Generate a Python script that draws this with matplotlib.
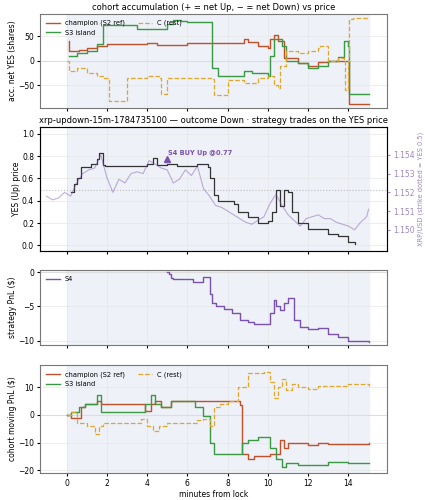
import matplotlib
matplotlib.use("Agg")
import matplotlib.pyplot as plt

# --- cohort accumulation (shares) ---
acc_t_champ = [0.1,0.12,0.6,1.0,1.5,2.0,4.0,4.5,5.0,6.0,8.7,8.8,9.0,9.5,10.0,10.1,10.3,10.5,10.8,11.5,12.0,12.5,13.0,14.0,14.05,15.0]
acc_champ   = [40,20,22,25,30,35,37,32,33,36,37,45,38,30,25,45,53,40,5,-5,-10,-2,0,0,-87,-87]
acc_t_s3 = [0.1,0.5,1.0,1.5,1.8,3.2,3.5,4.3,5.0,5.3,5.7,6.0,7.1,7.2,7.5,8.5,8.8,9.2,10.0,10.1,10.3,10.7,10.9,11.5,12.0,12.5,13.0,13.5,13.8,14.0,14.05,15.0]
acc_s3   = [10,15,20,35,72,72,65,65,75,82,80,78,78,-15,-32,-32,-20,-25,-32,10,45,30,0,-5,-15,-10,0,8,40,30,-68,-68]
acc_t_c = [0.0,0.1,0.5,1.0,1.5,1.8,2.0,2.1,3.0,4.0,4.6,4.7,5.0,6.0,7.2,7.3,8.0,8.8,9.5,10.0,10.3,10.5,10.6,10.9,11.5,12.0,12.5,12.6,13.0,13.5,13.8,13.85,14.0,14.05,14.2,15.0]
acc_c   = [0,-20,-15,-25,-30,-35,-35,-82,-35,-32,-35,-68,-35,-36,-38,-70,-40,-45,-35,-30,-50,-55,-10,20,15,20,25,30,0,5,0,-60,0,85,87,87]

# --- YES price and XRP ---
yes_t = [0.2,0.35,0.5,0.7,1.2,1.5,1.6,1.8,1.9,3.0,4.0,4.3,4.5,5.0,5.5,6.5,7.0,7.1,7.3,7.5,8.3,8.5,9.0,9.5,10.0,10.2,10.4,10.6,10.8,11.0,11.2,11.5,12.0,12.5,13.0,13.5,14.0,14.3]
yes_p = [0.48,0.55,0.60,0.70,0.73,0.77,0.83,0.72,0.71,0.71,0.73,0.78,0.72,0.73,0.71,0.73,0.70,0.60,0.45,0.40,0.37,0.30,0.25,0.20,0.22,0.30,0.50,0.35,0.50,0.48,0.30,0.20,0.15,0.15,0.10,0.08,0.03,0.01]
xrp_t = [-1.0,-0.7,-0.4,-0.1,0.2,0.5,0.8,1.1,1.4,1.7,2.0,2.3,2.6,2.9,3.2,3.5,3.8,4.1,4.4,4.7,5.0,5.3,5.6,5.9,6.2,6.5,6.8,7.1,7.4,7.7,8.0,8.3,8.6,8.9,9.2,9.5,9.8,10.1,10.4,10.7,11.0,11.3,11.6,11.9,12.2,12.5,12.8,13.1,13.4,13.7,14.0,14.3,14.6,14.9,15.0]
xrp   = [1.1518,1.1516,1.1517,1.1520,1.1518,1.1525,1.1530,1.1532,1.1533,1.1540,1.1528,1.1520,1.1527,1.1525,1.1530,1.1531,1.1530,1.1537,1.1535,1.1533,1.1532,1.1525,1.1527,1.1532,1.1529,1.1534,1.1522,1.1518,1.1513,1.1512,1.1510,1.1508,1.1506,1.1504,1.1503,1.1505,1.1507,1.1514,1.1519,1.1513,1.1508,1.1505,1.1502,1.1506,1.1507,1.1508,1.1506,1.1506,1.1504,1.1503,1.1502,1.1500,1.1504,1.1507,1.1511]

# --- S4 strategy PnL ---
s4_t = [5.0,5.1,5.2,5.3,6.3,6.8,7.1,7.2,7.4,7.8,8.2,8.6,9.0,9.3,10.0,10.1,10.3,10.4,10.6,10.8,11.0,11.3,11.6,12.0,12.5,13.0,13.5,14.0,15.0]
s4    = [0.0,-0.3,-0.9,-1.0,-1.5,-0.7,-3.2,-4.5,-5.0,-5.3,-6.0,-7.0,-7.3,-7.5,-7.5,-6.0,-4.0,-5.0,-5.5,-4.5,-3.8,-7.0,-8.0,-8.3,-8.2,-9.0,-9.5,-10.0,-10.1]

# --- cohort moving PnL ---
pnl_t_champ = [0.0,0.2,0.7,0.9,1.3,1.5,1.7,3.6,3.9,4.2,4.4,4.7,5.2,6.8,8.6,8.7,9.0,9.3,10.1,10.3,10.6,10.8,11.0,11.5,12.0,12.5,13.0,15.0]
pnl_champ   = [0,-1,3,4,4,5,4,4,1.5,4,5,3,5,5,3.5,-14,-16,-15,-14,-14,-9,-12,-10,-10,-11,-10,-10.5,-10]
pnl_t_s3 = [0.0,0.2,0.6,0.9,1.3,1.5,1.7,2.0,3.6,3.9,4.2,4.4,4.7,5.2,6.4,6.8,7.1,7.3,8.6,8.7,9.0,9.5,10.1,10.4,10.7,10.9,11.5,12.0,13.0,14.0,15.0]
pnl_s3   = [0,1,3,4,4,7,1,1,1,4,7,4,3,5,3,-0.5,-10,-14,-14,-10,-9,-8,-12,-16,-19,-17.5,-18,-18,-17,-17.5,-17.5]
pnl_t_c = [0.0,0.2,0.5,1.0,1.4,1.6,1.8,2.0,3.0,3.7,4.0,4.3,4.6,5.0,5.3,6.5,6.8,7.1,7.3,7.6,8.0,8.5,9.0,9.3,9.8,10.1,10.3,10.5,10.7,10.9,11.2,11.5,12.0,12.5,13.0,14.0,15.0]
pnl_c   = [0,1,-3,-4,-7,-4,-3,-3,-3,-1.5,-4,-6,-4,-3,-3,-2,-1.5,-4,3,4,5,10,15,15,15.5,12,6,10,13,9,11,10,9.5,10.5,10.5,11,10.5]

RED, GREEN, GOLD, PURPLE = "#c0512a", "#3a9a44", "#e0a82a", "#7b52ab"
SHADE = "#eef1f8"
FS = 5.5

fig = plt.figure(figsize=(4.25, 5.0), dpi=100)
L, W = 0.095, 0.815
ax1 = fig.add_axes([L, 0.785, W, 0.187])
ax2 = fig.add_axes([L, 0.498, W, 0.248], sharex=ax1)
ax3 = fig.add_axes([L, 0.31, W, 0.15], sharex=ax1)
ax4 = fig.add_axes([L, 0.054, W, 0.216], sharex=ax1)

for ax in (ax1, ax2, ax3, ax4):
    ax.axvspan(0, 15, color=SHADE, zorder=0)
    ax.grid(True, color="#e6e6e6", lw=0.5)
    ax.tick_params(labelsize=FS, length=2.5, pad=2)
    for s in ax.spines.values():
        s.set_color("#777777")
    ax.set_xlim(-1.3, 15.9)

ax1.axhline(0, color="#dddddd", lw=0.8)
ax1.step(acc_t_champ, acc_champ, where="post", color=RED, lw=1.0, label="champion (S2 ref)")
ax1.step(acc_t_s3, acc_s3, where="post", color=GREEN, lw=1.0, label="S3 island")
ax1.step(acc_t_c, acc_c, where="post", color=GOLD, lw=0.9, ls="--", label="C (rest)")
ax1.set_ylabel("acc. net YES (shares)", fontsize=FS, labelpad=1)
ax1.set_title("cohort accumulation (+ = net Up, \u2212 = net Down) vs price", fontsize=6, pad=3)
ax1.set_ylim(-95, 95)
ax1.set_yticks([-50, 0, 50])
ax1.legend(fontsize=4.8, ncol=2, loc="upper left", frameon=False)
ax1.tick_params(labelbottom=False)

ax2.axhline(0.5, color="#bbbbbb", lw=0.8, ls=":")
ax2.step(yes_t, yes_p, where="post", color="#333333", lw=0.9)
ax2.plot([5.0], [0.77], marker="^", color=PURPLE, ms=5)
ax2.annotate("S4 BUY Up @0.77", (5.0, 0.77), xytext=(5.05, 0.81), fontsize=4.8,
             color=PURPLE, fontweight="bold")
ax2.set_ylim(-0.05, 1.06)
ax2.set_ylabel("YES (Up) price", fontsize=FS, labelpad=1)
ax2.set_title("xrp-updown-15m-1784735100 \u2014 outcome Down \u00b7 strategy trades on the YES price", fontsize=6, pad=3)
ax2.tick_params(labelbottom=False)
axr = ax2.twinx()
axr.plot(xrp_t, xrp, color=PURPLE, alpha=0.45, lw=0.8)
axr.set_ylim(1.14887, 1.15549)
axr.set_yticks([1.150, 1.151, 1.152, 1.153, 1.154])
axr.set_yticklabels(["1.150", "1.151", "1.152", "1.153", "1.154"])
axr.tick_params(labelsize=FS, colors="#9d86c4", length=2.5, pad=2)
axr.set_ylabel("XRP/USD (strike dotted = YES 0.5)", fontsize=4.8, color="#9d86c4", labelpad=2)

ax3.axhline(0, color="#dddddd", lw=0.8)
ax3.step(s4_t, s4, where="post", color=PURPLE, lw=1.0, label="S4")
ax3.set_ylabel("strategy PnL ($)", fontsize=FS, labelpad=1)
ax3.set_ylim(-10.6, 0.3)
ax3.legend(fontsize=4.8, loc="upper left", frameon=False)
ax3.tick_params(labelbottom=False)

ax4.axhline(0, color="#dddddd", lw=0.8)
ax4.step(pnl_t_champ, pnl_champ, where="post", color=RED, lw=1.0, label="champion (S2 ref)")
ax4.step(pnl_t_s3, pnl_s3, where="post", color=GREEN, lw=1.0, label="S3 island")
ax4.step(pnl_t_c, pnl_c, where="post", color=GOLD, lw=0.9, ls="--", label="C (rest)")
ax4.set_ylabel("cohort moving PnL ($)", fontsize=FS, labelpad=1)
ax4.set_xlabel("minutes from lock", fontsize=FS, labelpad=1)
ax4.set_ylim(-21, 18)
ax4.set_xticks([0, 2, 4, 6, 8, 10, 12, 14])
ax4.legend(fontsize=4.8, ncol=2, loc="upper left", frameon=False)

fig.savefig("out.png", dpi=100)
